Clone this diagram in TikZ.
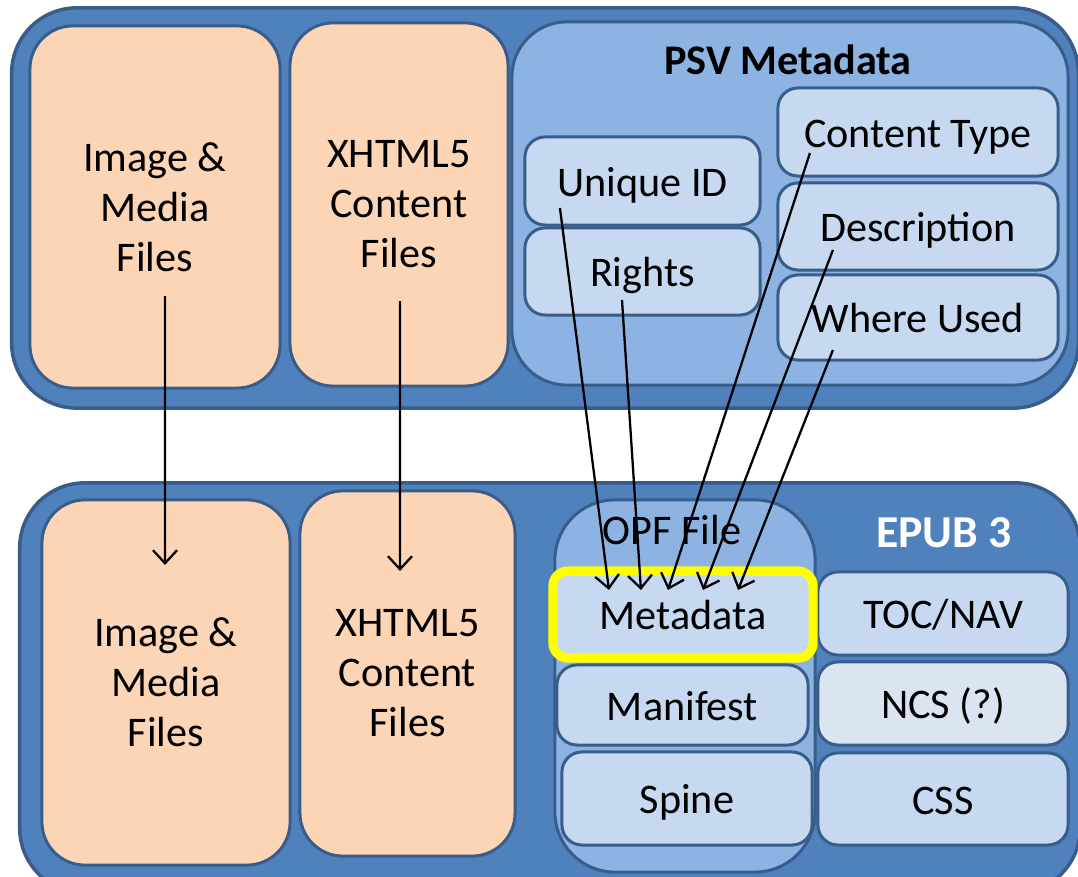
\documentclass[tikz,border=0pt]{standalone}
\usepackage{fontspec}
\setmainfont{Carlito}
\usetikzlibrary{arrows.meta}

\definecolor{epubblue}{HTML}{4F81BD}
\definecolor{rimblue}{HTML}{385D8A}
\definecolor{peach}{HTML}{FBD5B5}
\definecolor{paleblue}{HTML}{8DB3E2}
\definecolor{itemblue}{HTML}{C6D9F1}
\definecolor{faintblue}{HTML}{DBE5F1}
\definecolor{marker}{HTML}{FFFF00}

\newcommand\bodyfont{\fontsize{12pt}{14.2pt}\selectfont}
\newcommand\headfont{\fontsize{12pt}{14pt}\selectfont\bfseries}

\tikzset{
  panel/.style={draw=rimblue, fill=epubblue, line width=1pt, rounded corners=0.65cm, inner sep=0pt, outer sep=0pt},
  filebox/.style={draw=rimblue, fill=peach, line width=0.85pt, rounded corners=0.43cm, align=center, inner sep=0pt, outer sep=0pt, font=\bodyfont},
  groupbox/.style={draw=rimblue, fill=paleblue, line width=0.85pt, rounded corners=0.55cm, inner sep=0pt, outer sep=0pt},
  itembox/.style={draw=rimblue, fill=itemblue, line width=0.85pt, rounded corners=0.2cm, inner sep=0pt, outer sep=0pt, font=\bodyfont, text height=0.88em, text depth=0pt},
  link/.style={-{Straight Barb[length=1.3mm,width=2.4mm]}, line width=0.65pt},
}

\begin{document}
\begin{tikzpicture}[x=0.01cm, y=-0.01cm]
\useasboundingbox (0,0) rectangle (1078,877);
\clip (0,0) rectangle (1078,877);
% the two panels
\node[panel, minimum width=10.66cm, minimum height=4cm] (psvpanel) at (545,208) {};
\node[panel, minimum width=10.6cm, minimum height=4.1cm] (epubpanel) at (550,688) {};
% top row
\node[filebox, minimum width=2.5cm, minimum height=3.62cm] (imgsrc) at (155,207) {Image \&\\Media\\Files};
\node[filebox, minimum width=2.18cm, minimum height=3.63cm] (xhtsrc) at (399,204.5) {XHTML5\\Content\\Files};
\node[groupbox, minimum width=5.56cm, minimum height=3.63cm] (psv) at (790,203.5) {};
\node[font=\headfont] (psvtitle) at (788,60) {PSV Metadata};
\node[itembox, minimum width=2.35cm, minimum height=0.88cm] (uid) at (642.5,181) {Unique ID};
\node[itembox, minimum width=2.35cm, minimum height=0.87cm] (rights) at (642.5,271.5) {Rights};
\node[itembox, minimum width=2.8cm, minimum height=0.88cm] (ctype) at (918,132) {Content Type};
\node[itembox, minimum width=2.8cm, minimum height=0.87cm] (desc) at (918,226.5) {Description};
\node[itembox, minimum width=2.8cm, minimum height=0.85cm] (where) at (918,317.5) {Where Used};
% bottom row
\node[filebox, minimum width=2.48cm, minimum height=3.65cm] (imgdst) at (166,682.5) {Image \&\\Media\\Files};
\node[filebox, minimum width=2.15cm, minimum height=3.65cm] (xhtdst) at (407.5,673.5) {XHTML5\\Content\\Files};
\node[groupbox, rounded corners=0.6cm, minimum width=2.6cm, minimum height=3.72cm] (opf) at (685,686) {};
\node[font=\bodyfont] (opftitle) at (672,530) {OPF File};
\node[font=\fontsize{13pt}{15pt}\selectfont\bfseries, text=white] (epubtitle) at (944,533) {EPUB 3};
\node[itembox, minimum width=2.51cm, minimum height=0.8cm] (manifest) at (682.5,705) {Manifest};
\node[itembox, minimum width=2.5cm, minimum height=0.93cm] (spine) at (687,798.5) {Spine};
\node[itembox, minimum width=2.5cm, minimum height=0.83cm] (toc) at (943,613.5) {TOC/NAV};
\node[itembox, fill=faintblue, minimum width=2.5cm, minimum height=0.83cm] (ncs) at (943,703.5) {NCS (?)};
\node[itembox, minimum width=2.5cm, minimum height=0.92cm] (css) at (943,799) {CSS};
\node[itembox, draw=marker, line width=2.6pt, rounded corners=0.15cm, minimum width=2.6cm, minimum height=0.87cm] (meta) at (683,614.5) {Metadata};
% connectors
\draw[link] ([xshift=0.1cm,yshift=-0.89cm]imgsrc.center) -- ([xshift=-0.01cm,yshift=-0.65cm]imgdst.north);
\draw[link] ([xshift=0.01cm,yshift=-0.965cm]xhtsrc.center) -- ([xshift=-0.075cm,yshift=-0.8cm]xhtdst.north);
\draw[link] ([xshift=0.35cm,yshift=0.17cm]uid.south west) -- ([xshift=0.56cm,yshift=-0.19cm]meta.north west);
\draw[link] ([xshift=0.97cm,yshift=0.15cm]rights.south west) -- ([xshift=0.88cm,yshift=-0.19cm]meta.north west);
\draw[link] ([xshift=0.32cm,yshift=0.23cm]ctype.south west) -- ([xshift=1.15cm,yshift=-0.19cm]meta.north west);
\draw[link] ([xshift=0.55cm,yshift=0.2cm]desc.south west) -- ([xshift=1.5cm,yshift=-0.19cm]meta.north west);
\draw[link] ([xshift=0.55cm,yshift=0.1cm]where.south west) -- ([xshift=1.85cm,yshift=-0.19cm]meta.north west);
\end{tikzpicture}
\end{document}
